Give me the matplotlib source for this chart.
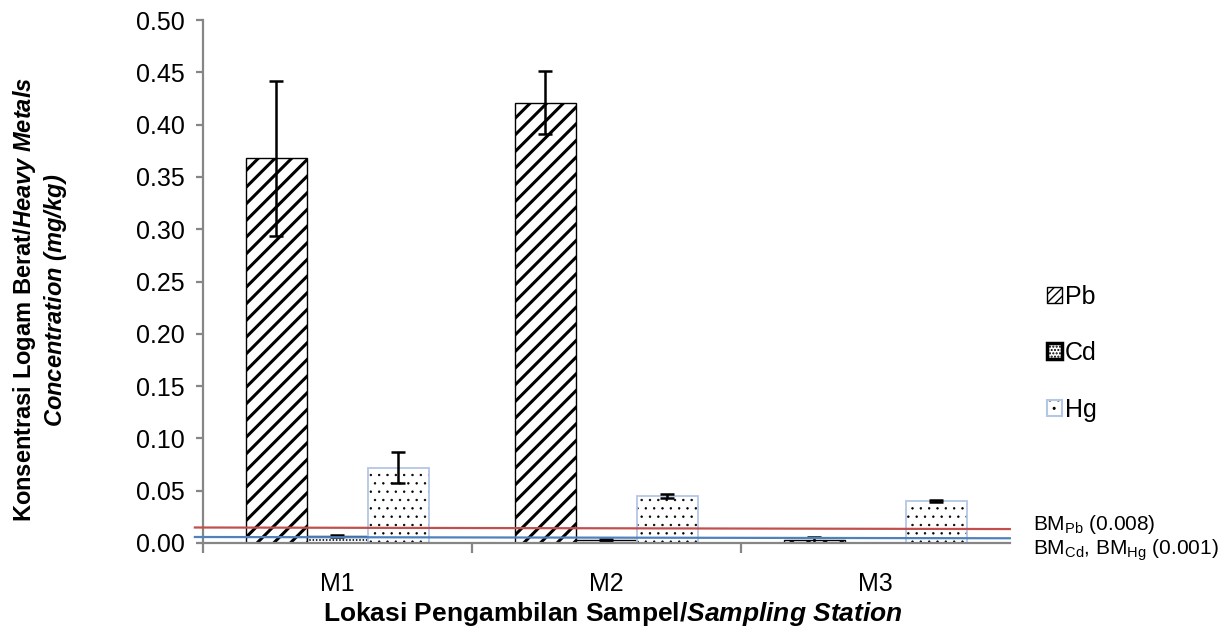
import numpy as np
import matplotlib
matplotlib.use("Agg")
import matplotlib.pyplot as plt
from matplotlib.patches import Patch

plt.rcParams['font.family'] = ['Liberation Sans', 'DejaVu Sans']
plt.rcParams['mathtext.fontset'] = 'custom'
plt.rcParams['mathtext.rm'] = 'Liberation Sans'
plt.rcParams['mathtext.it'] = 'Liberation Sans:italic'
plt.rcParams['mathtext.bf'] = 'Liberation Sans:bold'
plt.rcParams['mathtext.bfit'] = 'Liberation Sans:bold:italic'

# data
stations = ['M1', 'M2', 'M3']
metals = ['Pb', 'Cd', 'Hg']
pb = [0.368, 0.421, 0.003]
pb_err = [0.074, 0.030, 0.003]
cd = [0.007, 0.003, 0.0]
cd_err = [0.001, 0.001, 0.0]
hg = [0.072, 0.045, 0.040]
hg_err = [0.015, 0.002, 0.001]
# quality standard lines (as drawn, slightly sloped) and their labels
bm_pb_line = [0.0148, 0.0133]
bm_cdhg_line = [0.0057, 0.0045]
bm_labels = [r'BM$_{\mathregular{Pb}}$ (0.008)', r'BM$_{\mathregular{Cd}}$, BM$_{\mathregular{Hg}}$ (0.001)']

hg_edge = '#b4c7e7'
gray = '#868686'

fig = plt.figure(figsize=(12.27, 6.28), dpi=100)
ax = fig.add_axes([0.1654, 0.1354, 0.6576, 0.8326])

x = np.arange(len(stations))
w = 0.227
ebar = dict(ecolor='black', elinewidth=1.8, capsize=4.7, capthick=1.8)


def hatched_bar(xs, ys, hatch, hlw, **kw):
    with plt.rc_context({'hatch.linewidth': hlw}):
        bars = ax.bar(xs, ys, w, hatch=hatch, **kw)
    return bars


hatched_bar(x - w, pb, '//', 2.2, facecolor='white', edgecolor='black', linewidth=1.0)
ax.errorbar(x - w, pb, yerr=pb_err, fmt='none', **ebar)

hatched_bar(x, cd, '.....', 0.8, facecolor='white', edgecolor='black', linewidth=1.0)
ax.errorbar(x[:2], cd[:2], yerr=cd_err[:2], fmt='none', **ebar)

hatched_bar(x + w, hg, '..', 0.5, facecolor='white', edgecolor='black', linewidth=0)
ax.bar(x + w, hg, w, facecolor='none', edgecolor=hg_edge, linewidth=1.3)
ax.errorbar(x + w, hg, yerr=hg_err, fmt='none', **ebar)

# standard lines
ax.plot([-0.53, 2.5], bm_pb_line, color='#c0504d', lw=1.6, clip_on=False, zorder=5)
ax.plot([-0.53, 2.5], bm_cdhg_line, color='#4f81bd', lw=1.6, clip_on=False, zorder=5)
fig.text(1033 / 1227, 1 - 524 / 628, bm_labels[0], fontsize=15, va='center', ha='left')
fig.text(1033 / 1227, 1 - 550 / 628, bm_labels[1], fontsize=15, va='center', ha='left')

ax.set_xlim(-0.5, 2.5)
ax.set_ylim(0, 0.5)
ax.set_yticks(np.arange(0, 0.501, 0.05))
ax.set_yticklabels([f'{v:.2f}' for v in np.arange(0, 0.501, 0.05)])
ax.set_xticks(x)
ax.set_xticklabels(stations)
ax.set_xticks([-0.5, 0.5, 1.5], minor=True)
ax.tick_params(axis='x', which='major', length=0, pad=21, labelsize=18)
ax.tick_params(axis='x', which='minor', length=7, width=1.6, color=gray, direction='out')
ax.tick_params(axis='y', length=5, width=1.6, color=gray, labelsize=18, pad=8)

for s in ['top', 'right']:
    ax.spines[s].set_visible(False)
for s in ['left', 'bottom']:
    ax.spines[s].set_color(gray)
    ax.spines[s].set_linewidth(1.6)

fig.text(613 / 1227, 1 - 614 / 628,
         r'$\mathbf{Lokasi\ Pengambilan\ Sampel/}\mathbfit{Sampling\ Station}$',
         fontsize=19, ha='center', va='center')
fig.text(40 / 1227, 1 - 300 / 628,
         r'$\mathbf{Konsentrasi\ Logam\ Berat/}\mathbfit{Heavy\ Metals}$' + '\n'
         + r'$\mathbfit{Concentration\ (mg/kg)}$',
         fontsize=17, ha='center', va='center', rotation=90, multialignment='center')

with plt.rc_context({'hatch.linewidth': 1.5}):
    h_pb = Patch(facecolor='white', edgecolor='black', hatch='////', linewidth=1.0)
with plt.rc_context({'hatch.linewidth': 0.8}):
    h_cd = Patch(facecolor='white', edgecolor='black', hatch='.....', linewidth=2.5)
with plt.rc_context({'hatch.linewidth': 0.5}):
    h_hg = (Patch(facecolor='white', edgecolor='black', hatch='..', linewidth=0),
            Patch(facecolor='none', edgecolor=hg_edge, linewidth=1.5))
ax.legend([h_pb, h_cd, h_hg], metals, loc='center left',
          bbox_to_anchor=(1024 / 1227, 1 - 353 / 628),
          bbox_transform=fig.transFigure, frameon=False, fontsize=18,
          handlelength=0.6, handleheight=0.6, handletextpad=0.15, labelspacing=1.3)

fig.savefig('out.png', dpi=100)
